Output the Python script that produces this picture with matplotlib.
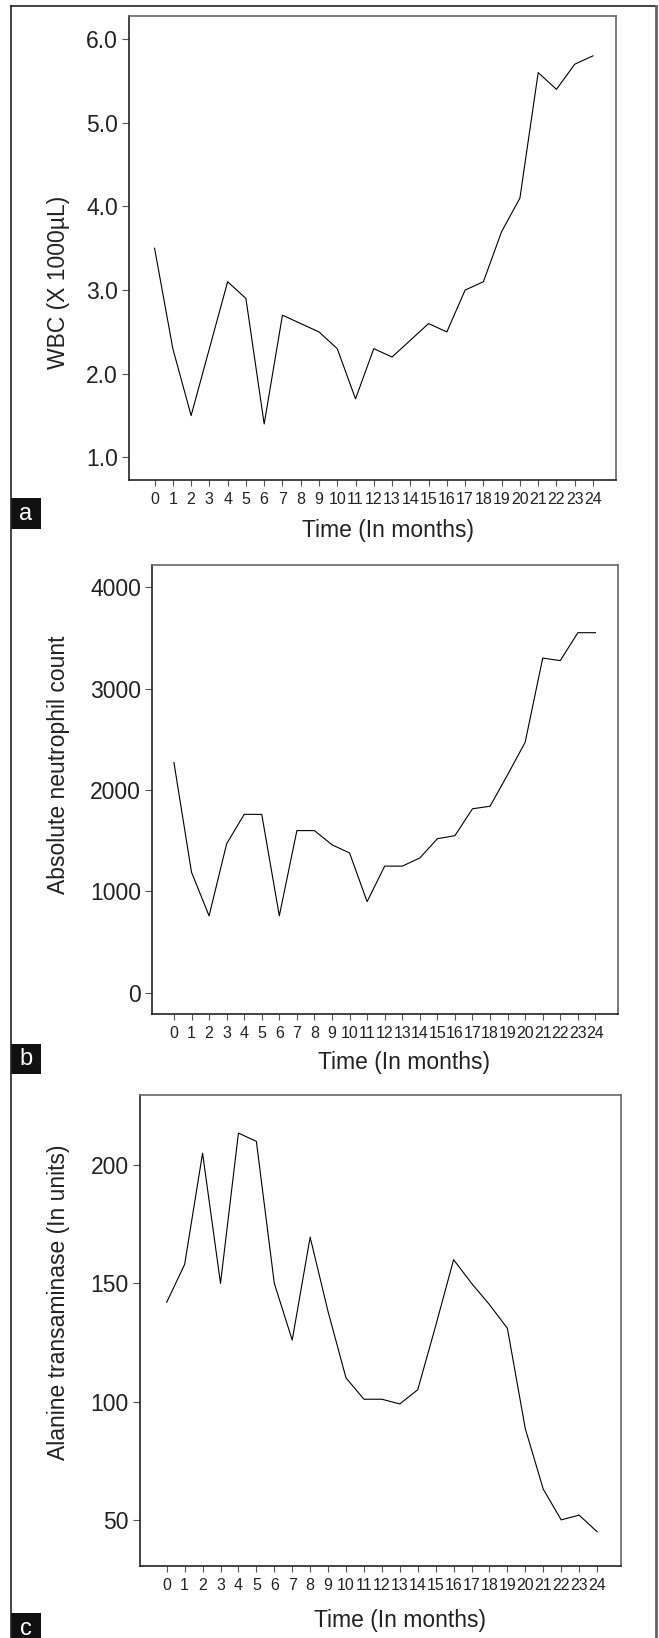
import matplotlib
matplotlib.use("Agg")
import matplotlib.pyplot as plt
from matplotlib.lines import Line2D
from matplotlib.patches import Rectangle

W, H = 659, 1638

plt.rcParams['font.family'] = ['Liberation Sans', 'DejaVu Sans']

months = list(range(25))

wbc = [3.5, 2.3, 1.5, 2.3, 3.1, 2.9, 1.4, 2.7, 2.6, 2.5, 2.3, 1.7, 2.3,
       2.2, 2.4, 2.6, 2.5, 3.0, 3.1, 3.7, 4.1, 5.6, 5.4, 5.7, 5.8]

anc = [2270, 1190, 760, 1470, 1760, 1760, 760, 1600, 1600, 1460, 1380, 900,
       1250, 1250, 1330, 1520, 1550, 1815, 1840, 2150, 2470, 3300, 3275,
       3550, 3550]

alt = [142, 158, 205, 150, 213.5, 210, 150, 126, 169.5, 138, 110, 101, 101,
       99, 105, 132, 160, 150, 141, 131, 88.5, 63, 50, 52, 45]

wbc_ticks = [1.0, 2.0, 3.0, 4.0, 5.0, 6.0]
anc_ticks = [0, 1000, 2000, 3000, 4000]
alt_ticks = [50, 100, 150, 200]

panels = [
    # data, ylabel, yticks, fmt, box(l,t,r,b px), xlim, ylim, ylabel y px, xlabel (x,y) px, ticklabel y px, tag, tag box
    (wbc, "WBC (X 1000\u00b5L)", wbc_ticks, "{:.1f}", (129, 15.7, 616, 480),
     (-1.40, 25.26), (0.73, 6.28), 282, (388, 530), 500, "a", (11, 498, 41, 529)),
    (anc, "Absolute neutrophil count", anc_ticks, "{:d}", (152, 565, 617.7, 1014),
     (-1.25, 25.27), (-207, 4217), 765, (404, 1063), 1032, "b", (11, 1044, 41, 1074)),
    (alt, "Alanine transaminase (In units)", alt_ticks, "{:d}", (140, 1095, 620.7, 1566),
     (-1.49, 25.32), (30.5, 229.6), 1302, (400, 1621), 1590, "c", (11, 1613, 41, 1645)),
]

fig = plt.figure(figsize=(W / 100, H / 100), dpi=100)

# outer frame of the figure
fig.add_artist(Line2D([11 / W, 11 / W], [0, 1 - 5.7 / H], color="#222222", lw=1.2))
fig.add_artist(Line2D([11 / W, 655.7 / W], [1 - 5.7 / H, 1 - 5.7 / H], color="#222222", lw=1.2))
fig.add_artist(Line2D([655.7 / W, 655.7 / W], [0, 1 - 5.7 / H], color="#666666", lw=2.0))

for data, ylab, yt, fmt, box, xl, yl, ylab_y, xlab_xy, tl_y, tag, tbox in panels:
    l, t, r, b = box
    ax = fig.add_axes([l / W, 1 - b / H, (r - l) / W, (b - t) / H])
    ax.plot(months, data, color="black", lw=0.8)
    ax.set_xlim(*xl)
    ax.set_ylim(*yl)
    ax.set_yticks(yt)
    ax.set_yticklabels([fmt.format(v) for v in yt], fontsize=16.5, color="#222222")
    ax.set_xticks(months)
    ax.set_xticklabels([str(m) for m in months], fontsize=11.5, color="#222222",
                       family=['Liberation Sans Narrow', 'Liberation Sans'])
    ax.tick_params(axis="y", length=5, width=0.8, color="#555555", pad=3)
    ax.tick_params(axis="x", length=4.5, width=0.8, color="#555555", pad=4)
    for s in ["left", "bottom"]:
        ax.spines[s].set_color("#222222")
        ax.spines[s].set_linewidth(1.2)
    for s in ["top", "right"]:
        ax.spines[s].set_color("#666666")
        ax.spines[s].set_linewidth(1.2)

    # axis labels placed in figure pixel positions
    ax.set_ylabel(ylab, fontsize=16.5, color="#222222")
    ax.yaxis.set_label_coords((59 - l) / (r - l), (b - ylab_y) / (b - t))
    ax.set_xlabel("Time (In months)", fontsize=16.5, color="#222222")
    ax.xaxis.set_label_coords((xlab_xy[0] - l) / (r - l), (b - xlab_xy[1]) / (b - t))
    ax.xaxis.label.set_va("center")
    ax.yaxis.label.set_va("center")

    # panel tag box
    tl, tt, tr, tb = tbox
    fig.add_artist(Rectangle((tl / W, 1 - tb / H), (tr - tl) / W, (tb - tt) / H,
                             transform=fig.transFigure, facecolor="#111111",
                             edgecolor="none"))
    fig.text((tl + tr) / 2 / W, 1 - (tt + tb) / 2 / H, tag, color="white",
             fontsize=17, ha="center", va="center")

fig.savefig("out.png", dpi=100)
